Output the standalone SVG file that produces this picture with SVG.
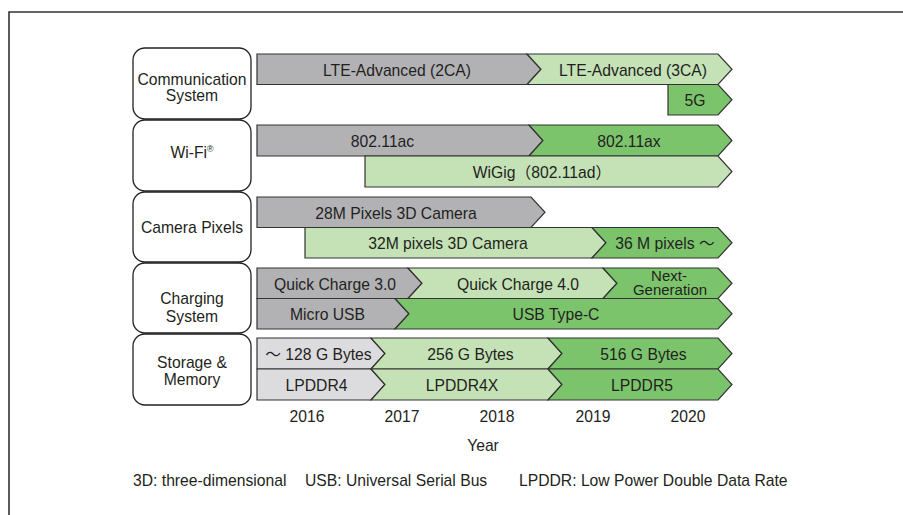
<svg xmlns="http://www.w3.org/2000/svg" width="903" height="515" viewBox="0 0 903 515">
<style>
text{font-family:"Liberation Sans",Arial,"Noto Sans CJK JP",sans-serif;font-size:15.7px;fill:#231f20;text-anchor:middle}
.cat{fill:#fff;stroke:#222;stroke-width:1.3}
.bar{stroke:#333;stroke-width:1.2;stroke-linejoin:miter}
.g{fill:#b2b2b5}
.lg{fill:#dcdcde}
.lt{fill:#c4e2b6}
.dk{fill:#7cc46c}
.note{text-anchor:start}
.tight{font-size:15px}
</style>
<rect width="903" height="515" fill="#fff"/>
<path d="M9 515 V12 H903" fill="none" stroke="#333" stroke-width="1.6"/>

<g id="cat-comm"><rect class="cat" x="133" y="48" width="118" height="71" rx="12"/><text x="192" y="85">Communication</text><text x="192" y="101">System</text></g>
<g id="cat-wifi"><rect class="cat" x="133" y="120" width="118" height="71" rx="12"/><text x="192" y="158">Wi-Fi<tspan font-size="9" dy="-6">®</tspan></text></g>
<g id="cat-camera"><rect class="cat" x="133" y="192" width="118" height="70" rx="12"/><text x="192" y="233">Camera Pixels</text></g>
<g id="cat-charging"><rect class="cat" x="133" y="263" width="118" height="70" rx="12"/><text x="192" y="304">Charging</text><text x="192" y="322">System</text></g>
<g id="cat-storage"><rect class="cat" x="133" y="334" width="118" height="71" rx="12"/><text x="192" y="368">Storage &amp;</text><text x="192" y="385">Memory</text></g>

<g id="lte2ca"><path class="bar g" d="M257 54 H527 L541 69.25 L527 84.5 H257 Z"/><text x="397" y="75.5">LTE-Advanced (2CA)</text></g>
<g id="lte3ca"><path class="bar lt" d="M527 54 H718 L732 69.25 L718 84.5 H527 L541 69.25 Z"/><text x="633" y="75.5">LTE-Advanced (3CA)</text></g>
<g id="g5"><path class="bar dk" d="M668 84.5 H718 L732 99.75 L718 115 H668 Z"/><text x="695" y="106">5G</text></g>

<g id="ac"><path class="bar g" d="M257 125 H529 L543 140.5 L529 156 H257 Z"/><text x="382.5" y="147">802.11ac</text></g>
<g id="ax"><path class="bar dk" d="M529 125 H718 L732 140.5 L718 156 H529 L543 140.5 Z"/><text x="629" y="147">802.11ax</text></g>
<g id="wigig"><path class="bar lt" d="M365 156 H718 L732 171.5 L718 187 H365 Z"/><text x="542" y="178">WiGig（802.11ad）</text></g>

<g id="cam28"><path class="bar g" d="M257 197 H531 L545 212.25 L531 227.5 H257 Z"/><text x="396" y="218.5">28M Pixels 3D Camera</text></g>
<g id="cam32"><path class="bar lt" d="M305 227.5 H592 L606 242.75 L592 258 H305 Z"/><text x="448" y="249">32M pixels 3D Camera</text></g>
<g id="cam36"><path class="bar dk" d="M592 227.5 H718 L732 242.75 L718 258 H592 L606 242.75 Z"/><text x="665" y="249">36 M pixels ～</text></g>

<g id="qc3"><path class="bar g" d="M257 268 H408 L422 283.25 L408 298.5 H257 Z"/><text x="335" y="289.5">Quick Charge 3.0</text></g>
<g id="qc4"><path class="bar lt" d="M408 268 H603 L617 283.25 L603 298.5 H408 L422 283.25 Z"/><text x="518" y="289.5">Quick Charge 4.0</text></g>
<g id="nextgen"><path class="bar dk" d="M603 268 H718 L732 283.25 L718 298.5 H603 L617 283.25 Z"/><text class="tight" x="669" y="281">Next-<tspan x="670" dy="14">Generation</tspan></text></g>
<g id="microusb"><path class="bar g" d="M257 298.5 H395 L409 313.75 L395 329 H257 Z"/><text x="327.5" y="320">Micro USB</text></g>
<g id="usbc"><path class="bar dk" d="M395 298.5 H718 L732 313.75 L718 329 H395 L409 313.75 Z"/><text x="556" y="320">USB Type-C</text></g>

<g id="s128"><path class="bar lg" d="M257 338 H371 L385 353.5 L371 369 H257 Z"/><text x="318.5" y="360">～ 128 G Bytes</text></g>
<g id="s256"><path class="bar lt" d="M371 338 H548 L562 353.5 L548 369 H371 L385 353.5 Z"/><text x="470.5" y="360">256 G Bytes</text></g>
<g id="s516"><path class="bar dk" d="M548 338 H718 L732 353.5 L718 369 H548 L562 353.5 Z"/><text x="643.5" y="360">516 G Bytes</text></g>
<g id="lp4"><path class="bar lg" d="M257 369 H371 L385 384.5 L371 400 H257 Z"/><text x="316.5" y="391">LPDDR4</text></g>
<g id="lp4x"><path class="bar lt" d="M371 369 H548 L562 384.5 L548 400 H371 L385 384.5 Z"/><text x="462" y="391">LPDDR4X</text></g>
<g id="lp5"><path class="bar dk" d="M548 369 H718 L732 384.5 L718 400 H548 L562 384.5 Z"/><text x="642" y="391">LPDDR5</text></g>

<g id="connectors"></g>

<g id="axis">
<text x="307" y="422">2016</text><text x="402" y="422">2017</text><text x="497" y="422">2018</text><text x="593" y="422">2019</text><text x="688" y="422">2020</text>
<text x="483" y="451">Year</text>
</g>
<g id="notes">
<text class="note" x="133" y="485.5">3D: three-dimensional</text>
<text class="note" x="305" y="485.5">USB: Universal Serial Bus</text>
<text class="note" x="519" y="485.5">LPDDR: Low Power Double Data Rate</text>
</g>
</svg>
